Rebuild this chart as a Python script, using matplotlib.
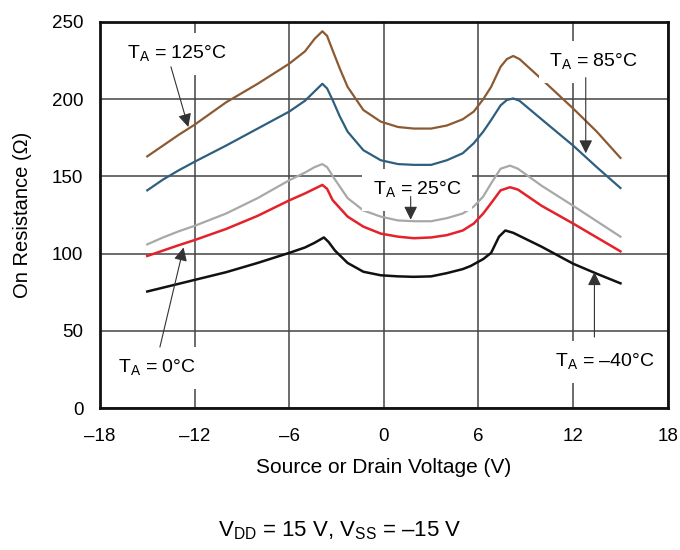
import matplotlib
matplotlib.use("Agg")
import matplotlib.pyplot as plt

plt.rcParams["font.family"] = ["Liberation Sans", "DejaVu Sans"]
plt.rcParams["mathtext.fontset"] = "custom"
plt.rcParams["mathtext.rm"] = "Liberation Sans"

# source/drain voltage (V) and on resistance (ohm)
v_125 = [-15, -14, -13, -12, -10, -8, -6, -5, -4.4, -3.9, -3.6, -3.3, -2.8, -2.3, -1.3, -0.2,
         0.9, 1.9, 3.0, 4.0, 5.0, 5.7, 6.3, 6.8, 7.4, 7.8, 8.2, 8.6, 10, 12, 13.5, 15]
r_125 = [163, 170, 177, 183.5, 198, 210, 223, 231, 239, 244, 241, 233, 220, 208, 193, 185.5,
         182, 181, 181, 183, 187, 192, 200, 208, 221, 226, 228, 226, 213, 194, 179, 162]

v_85 = [-15, -14, -13, -12, -10, -8, -6, -5, -4.4, -3.9, -3.6, -3.25, -2.8, -2.3, -1.3, -0.2,
        0.9, 1.9, 3.0, 4.0, 5.0, 5.7, 6.3, 6.8, 7.4, 7.8, 8.2, 8.6, 10, 12, 13.5, 15]
r_85 = [141, 148, 154, 159.5, 170, 181, 192, 199, 205, 210, 207, 199.5, 189, 179, 167, 160.5,
        158, 157.5, 157.5, 160.5, 165, 171.5, 179, 186.5, 196, 199.5, 200.5, 199, 187, 170, 156, 142.5]

v_25 = [-15, -14, -13, -12, -10, -8, -6, -5, -4.4, -3.9, -3.6, -3.1, -2.3, -1.3, -0.2,
        0.9, 1.9, 3.0, 4.0, 5.0, 5.7, 6.3, 6.8, 7.4, 8.0, 8.5, 10, 12, 13.5, 15]
r_25 = [106, 110.5, 114.5, 118, 126, 136, 147.5, 152.5, 156, 158, 156, 148, 136, 128, 124,
        121.5, 121, 121, 123, 126, 130.5, 137, 145.5, 155, 157, 155, 144, 131, 121, 111]

v_0 = [-15, -14, -13, -12, -10, -8, -6, -5, -4.4, -3.9, -3.6, -3.25, -2.3, -1.3, -0.2,
       0.9, 1.9, 3.0, 4.0, 5.0, 5.7, 6.3, 6.8, 7.4, 8.0, 8.5, 10, 12, 13.5, 15]
r_0 = [98.5, 102, 105.5, 108.8, 116, 124.5, 134.5, 139, 142, 144.5, 142, 134.7, 124, 117.5, 113,
       111, 110, 110.5, 112, 115, 119.5, 126, 132.7, 141, 143, 141.5, 131, 119.5, 110.5, 101.5]

v_m40 = [-15, -14, -13, -12, -10, -8, -6, -5, -4.4, -3.8, -3.5, -3.1, -2.3, -1.3, -0.2,
         0.9, 1.9, 3.0, 4.0, 5.0, 5.5, 6.3, 6.8, 7.3, 7.7, 8.2, 10, 12, 13.5, 15]
r_m40 = [75.5, 78, 80.5, 83, 88, 94, 100.5, 104, 107, 110.5, 107.5, 102, 94, 88.3, 86,
         85.3, 85, 85.3, 87.4, 90, 92, 96.5, 100.5, 111, 115, 113.5, 104.5, 93.5, 87, 80.8]

x_ticks = [-18, -12, -6, 0, 6, 12, 18]
x_tick_labels = ["\u201318", "\u201312", "\u20136", "0", "6", "12", "18"]
y_ticks = [0, 50, 100, 150, 200, 250]

fig = plt.figure(figsize=(6.8, 5.5), dpi=100, facecolor="white")
ax = fig.add_axes([0.147, 0.258, 0.835, 0.702])

ax.plot(v_125, r_125, color="#8c5a32", lw=1.6, zorder=3)
ax.plot(v_85, r_85, color="#2e5f7e", lw=1.6, zorder=3)
ax.plot(v_25, r_25, color="#a8a8a8", lw=1.6, zorder=3)
ax.plot(v_0, r_0, color="#e3222a", lw=1.8, zorder=3)
ax.plot(v_m40, r_m40, color="#111111", lw=1.8, zorder=3)

ax.set_xlim(-18, 18)
ax.set_ylim(0, 250)
ax.set_xticks(x_ticks)
ax.set_xticklabels(x_tick_labels)
ax.set_yticks(y_ticks)
ax.tick_params(length=0, labelsize=13.5)
ax.tick_params(axis="x", pad=14)
ax.tick_params(axis="y", pad=12)
ax.grid(True, color="#444444", lw=1.1)
ax.set_axisbelow(True)
for s in ax.spines.values():
    s.set_linewidth(2)
    s.set_color("#111111")

ax.set_xlabel("Source or Drain Voltage (V)", fontsize=15)
ax.set_ylabel("On Resistance (\u03a9)", fontsize=14.5)
ax.xaxis.set_label_coords(0.5, -0.128)
ax.yaxis.set_label_coords(-0.12, 0.5)

box = dict(boxstyle="square,pad=0.55", fc="white", ec="none")
labels = [
    ("T$_\\mathregular{A}$ = 125°C", -13.1, 226, (-13.5, 221), (-12.4, 182)),
    ("T$_\\mathregular{A}$ = 85°C", 13.3, 221, (12.8, 214), (12.8, 165)),
    ("T$_\\mathregular{A}$ = 25°C", 2.1, 138, (1.7, 137), (1.7, 122)),
    ("T$_\\mathregular{A}$ = 0°C", -14.4, 23, (-14.2, 39.5), (-12.7, 104)),
    ("T$_\\mathregular{A}$ = \u201340°C", 14.0, 26.5, (13.35, 46), (13.35, 88)),
]
for txt, tx, ty, tail, tip in labels:
    ax.text(tx, ty, txt, ha="center", va="baseline", fontsize=14,
            bbox=box, zorder=4, clip_on=False)
    ax.annotate("", xy=tip, xytext=tail, zorder=5,
                arrowprops=dict(arrowstyle="-|>", color="#333333", lw=0.8,
                                mutation_scale=20, shrinkA=0, shrinkB=0))

fig.text(0.5, 0.036, "V$_\\mathregular{DD}$ = 15 V, V$_\\mathregular{SS}$ = \u201315 V",
         ha="center", va="center", fontsize=16)

fig.savefig("out.png", dpi=100, facecolor="white")
